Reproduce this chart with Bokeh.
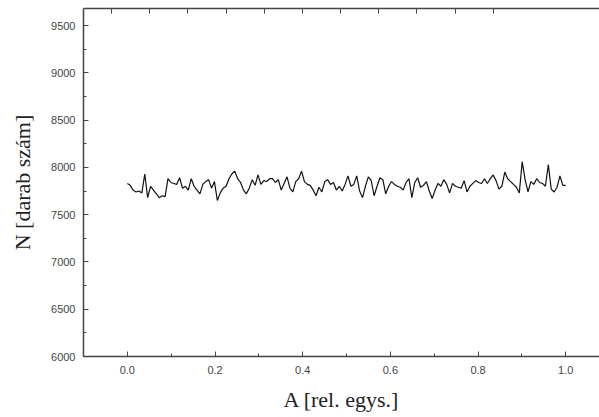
import numpy as np
from bokeh.plotting import figure
from bokeh.models import LinearAxis, Range1d, FixedTicker
from bokeh.embed import file_html
from bokeh.resources import INLINE

n_values = [
    7830, 7810, 7760, 7740, 7750, 7730, 7930, 7680, 7800, 7760, 7720, 7680, 7700, 7690, 7880, 7840, 7830,
    7820, 7890, 7780, 7800, 7760, 7880, 7800, 7760,
    7720, 7820, 7850, 7870, 7780, 7850, 7650, 7730, 7780, 7800, 7880, 7930, 7960, 7880, 7840, 7760, 7720,
    7780, 7870, 7810, 7920, 7820, 7860, 7850, 7880,
    7880, 7840, 7870, 7760, 7830, 7900, 7780, 7740, 7850, 7880, 7960, 7850, 7820, 7810, 7760, 7700, 7790,
    7740, 7850, 7870, 7820, 7840, 7760, 7800, 7750, 7820,
    7910, 7800, 7820, 7910, 7750, 7680, 7800, 7900, 7860, 7700, 7800, 7890, 7870, 7720, 7800, 7850, 7820,
    7800, 7790, 7760, 7840, 7880, 7680, 7840, 7890, 7790,
    7810, 7850, 7750, 7670, 7760, 7830, 7800, 7870, 7820, 7730, 7830, 7800, 7790, 7780, 7860, 7740, 7800,
    7830, 7860, 7840, 7830, 7880, 7830, 7880, 7920,
    7860, 7770, 7800, 7950, 7880, 7850, 7820, 7790, 7730, 8060, 7870, 7740, 7850, 7820, 7880, 7840, 7830,
    7800, 8030, 7770, 7740, 7790, 7910, 7810, 7810,
]
a_values = np.linspace(0.0, 1.0, len(n_values))

x_ticks = [0.0, 0.2, 0.4, 0.6, 0.8, 1.0]
x_minor = [-0.1, 0.1, 0.3, 0.5, 0.7, 0.9]
y_ticks = [6000, 6500, 7000, 7500, 8000, 8500, 9000, 9500]
y_minor = [6250, 6750, 7250, 7750, 8250, 8750, 9250]
top_ticks = list(range(11))

p = figure(width=599, height=417, output_backend="svg", toolbar_location=None,
           x_range=Range1d(-0.1, 1.077), y_range=Range1d(6000, 9680),
           min_border_left=83, min_border_right=0, min_border_top=8, min_border_bottom=61)
p.outline_line_color = None
p.xgrid.visible = False
p.ygrid.visible = False
p.background_fill_color = "white"
p.border_fill_color = "white"

p.line(a_values, n_values, line_color="#111111", line_width=1.2)

axis_col = "#444444"
lab_col = "#444444"
tick_font = "Liberation Sans"

xa = p.xaxis[0]
xa.ticker = FixedTicker(ticks=x_ticks, minor_ticks=x_minor)
xa.major_label_overrides = {t: f"{t:.1f}" for t in x_ticks}
xa.axis_label = "A [rel. egys.]"

ya = p.yaxis[0]
ya.ticker = FixedTicker(ticks=y_ticks, minor_ticks=y_minor)
ya.axis_label = "N [darab szám]"

for ax in (xa, ya):
    ax.axis_line_color = axis_col
    ax.axis_line_width = 1.5
    ax.major_tick_line_color = axis_col
    ax.minor_tick_line_color = axis_col
    ax.major_tick_in = 5
    ax.major_tick_out = 0
    ax.minor_tick_in = 3
    ax.minor_tick_out = 0
    ax.major_label_text_font = tick_font
    ax.major_label_text_font_size = "11px"
    ax.major_label_text_color = lab_col
    ax.axis_label_text_font = "Liberation Serif"
    ax.axis_label_text_font_size = "22px"
    ax.axis_label_text_font_style = "normal"
    ax.axis_label_text_color = "#222222"

xa.major_label_standoff = 9
xa.axis_label_standoff = 10
ya.major_label_standoff = 8
ya.axis_label_standoff = 13

# top frame axis: unlabelled tick row on the top border
p.extra_x_ranges = {"top": Range1d(-0.733, 12.78)}
ta = LinearAxis(x_range_name="top", ticker=FixedTicker(ticks=top_ticks, minor_ticks=[]))
ta.axis_line_color = axis_col
ta.axis_line_width = 1.5
ta.major_tick_line_color = axis_col
ta.major_tick_in = 5
ta.major_tick_out = 0
ta.major_label_text_font_size = "0px"
ta.major_label_standoff = 0
p.add_layout(ta, "above")

open("out.html", "w").write(file_html(p, INLINE))
